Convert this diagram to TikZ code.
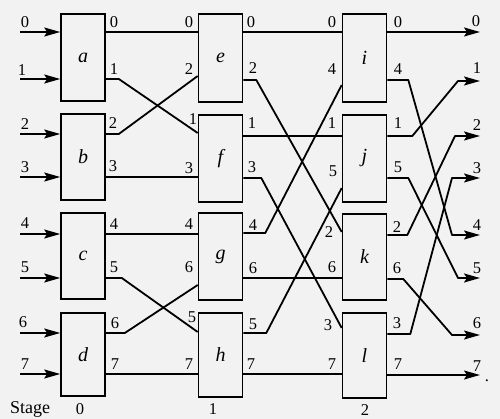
\documentclass[tikz,border=0pt]{standalone}
\usepackage{fontspec}
\setmainfont{Liberation Serif}
\usetikzlibrary{arrows.meta}
\begin{document}
\begin{tikzpicture}[x=1pt,y=-1pt,
  box/.style={draw,line width=1.6pt,minimum width=44pt,inner sep=0pt,font=\fontsize{20}{22}\selectfont\itshape},
  wire/.style={line width=1.8pt,line join=round},
  arr/.style={-{Stealth[length=16pt,width=9pt,inset=3pt]}},
  lab/.style={inner sep=0pt,font=\fontsize{16.5}{18}\selectfont}]
\fill[black!5] (0,0) rectangle (500,419);
\useasboundingbox (0,0) rectangle (500,419);
% boxes
\node[box,minimum height=87pt] (a) at (83,57.5) {a};
\node[box,minimum height=86pt] (b) at (83,157) {b};
\node[box,minimum height=86pt] (c) at (83,256) {c};
\node[box,minimum height=83pt] (d) at (83,354.5) {d};
\node[box,minimum height=88pt] (e) at (220.5,58) {e};
\node[box,minimum height=87pt] (f) at (220.5,158.5) {f};
\node[box,minimum height=87pt] (g) at (220.5,256.5) {g};
\node[box,minimum height=84pt] (h) at (220.5,355) {h};
\node[box,minimum height=88pt] (i) at (364.5,58) {i};
\node[box,minimum height=87pt] (j) at (364.5,158.5) {j};
\node[box,minimum height=86pt] (k) at (364.5,257) {k};
\node[box,minimum height=85pt] (l) at (364.5,355.5) {l};
% inputs
\foreach \y [count=\n from 0] in {32,79,134,177,234,278,333,374}
  \coordinate (in\n) at (20,\y);
\draw[wire,arr] (in0) -- (a.west|-in0);
\draw[wire,arr] (in1) -- (a.west|-in1);
\draw[wire,arr] (in2) -- (b.west|-in2);
\draw[wire,arr] (in3) -- (b.west|-in3);
\draw[wire,arr] (in4) -- (c.west|-in4);
\draw[wire,arr] (in5) -- (c.west|-in5);
\draw[wire,arr] (in6) -- (d.west|-in6);
\draw[wire,arr] (in7) -- (d.west|-in7);
% stage 0 -> 1
\draw[wire] (a.east|-0,32) -- (e.west|-0,32);
\draw[wire] (a.east|-0,79) -- ++(13,0) -- (f.west|-0,133);
\draw[wire] (b.east|-0,134) -- ++(13,0) -- (e.west|-0,76);
\draw[wire] (b.east|-0,177) -- (f.west|-0,177);
\draw[wire] (c.east|-0,234) -- (g.west|-0,234);
\draw[wire] (c.east|-0,278) -- ++(16,0) -- (h.west|-0,332);
\draw[wire] (d.east|-0,333) -- ++(19,0) -- (g.west|-0,285);
\draw[wire] (d.east|-0,374) -- (h.west|-0,374);
% stage 1 -> 2
\draw[wire] (e.east|-0,32) -- (i.west|-0,32);
\draw[wire] (e.east|-0,80) -- ++(13,0) -- (k.west|-0,232);
\draw[wire] (f.east|-0,136) -- (j.west|-0,136);
\draw[wire] (f.east|-0,178) -- ++(18,0) -- (l.west|-0,328);
\draw[wire] (g.east|-0,233) -- ++(22,0) -- (i.west|-0,85);
\draw[wire] (g.east|-0,278) -- (k.west|-0,278);
\draw[wire] (h.east|-0,333) -- ++(23,0) -- (j.west|-0,188);
\draw[wire] (h.east|-0,374) -- (l.west|-0,374);
% outputs
\foreach \y [count=\n from 0] in {32,81,136,178,235,278,335,375}
  \coordinate (out\n) at (480,\y);
\draw[wire,arr] (i.east|-out0) -- (out0);
\draw[wire,arr] (i.east|-0,80) -- ++(21,0) -- (452,235) -- (out4);
\draw[wire,arr] (j.east|-0,136) -- ++(25,0) -- (458,81) -- (out1);
\draw[wire,arr] (j.east|-0,178) -- ++(21,0) -- (458,278) -- (out5);
\draw[wire,arr] (k.east|-0,235) -- ++(20,0) -- (455,136) -- (out2);
\draw[wire,arr] (k.east|-0,279) -- ++(16,0) -- (452,335) -- (out6);
\draw[wire,arr] (l.east|-0,334) -- ++(23,0) -- (452,178) -- (out3);
\draw[wire,arr] (l.east|-out7) -- (out7);
% labels
\foreach \t/\x/\y [count=\n] in {
  0/25/22,1/22/70,2/25/124,3/25/167,4/25/223,5/25/267,6/23/322,7/25/364,
  0/114/22,1/114/69,2/113/123,3/113/166,4/114/224,5/114/267,6/115/323,7/115/364,
  0/189/22,2/189/69,1/193/119,3/189/168,4/189/224,6/189/267,5/192/317,7/189/364,
  0/251/22,2/253/68,1/252/123,3/252/167,4/253/225,6/253/268,5/253/324,7/251/364,
  0/332/22,4/332/69,1/332/123,5/333/171,2/329/232,6/332/267,3/328/325,7/332/364,
  0/398/22,4/398/69,1/398/123,5/398/167,2/397/227,6/397/268,3/397/323,7/398/364,
  0/476/21,1/477/68,2/477/125,3/477/168,4/477/225,5/477/268,6/477/323,7/477/366}
  \node[lab] (lab\n) at (\x,\y) {\t};
\node[lab] (dot) at (487,381) {.};
\node[lab,font=\fontsize{18}{20}\selectfont] (stage) at (30,409) {Stage};
\node[lab] (s0) at (80,409) {0};
\node[lab] (s1) at (213,409) {1};
\node[lab] (s2) at (365,410) {2};
\end{tikzpicture}
\end{document}
